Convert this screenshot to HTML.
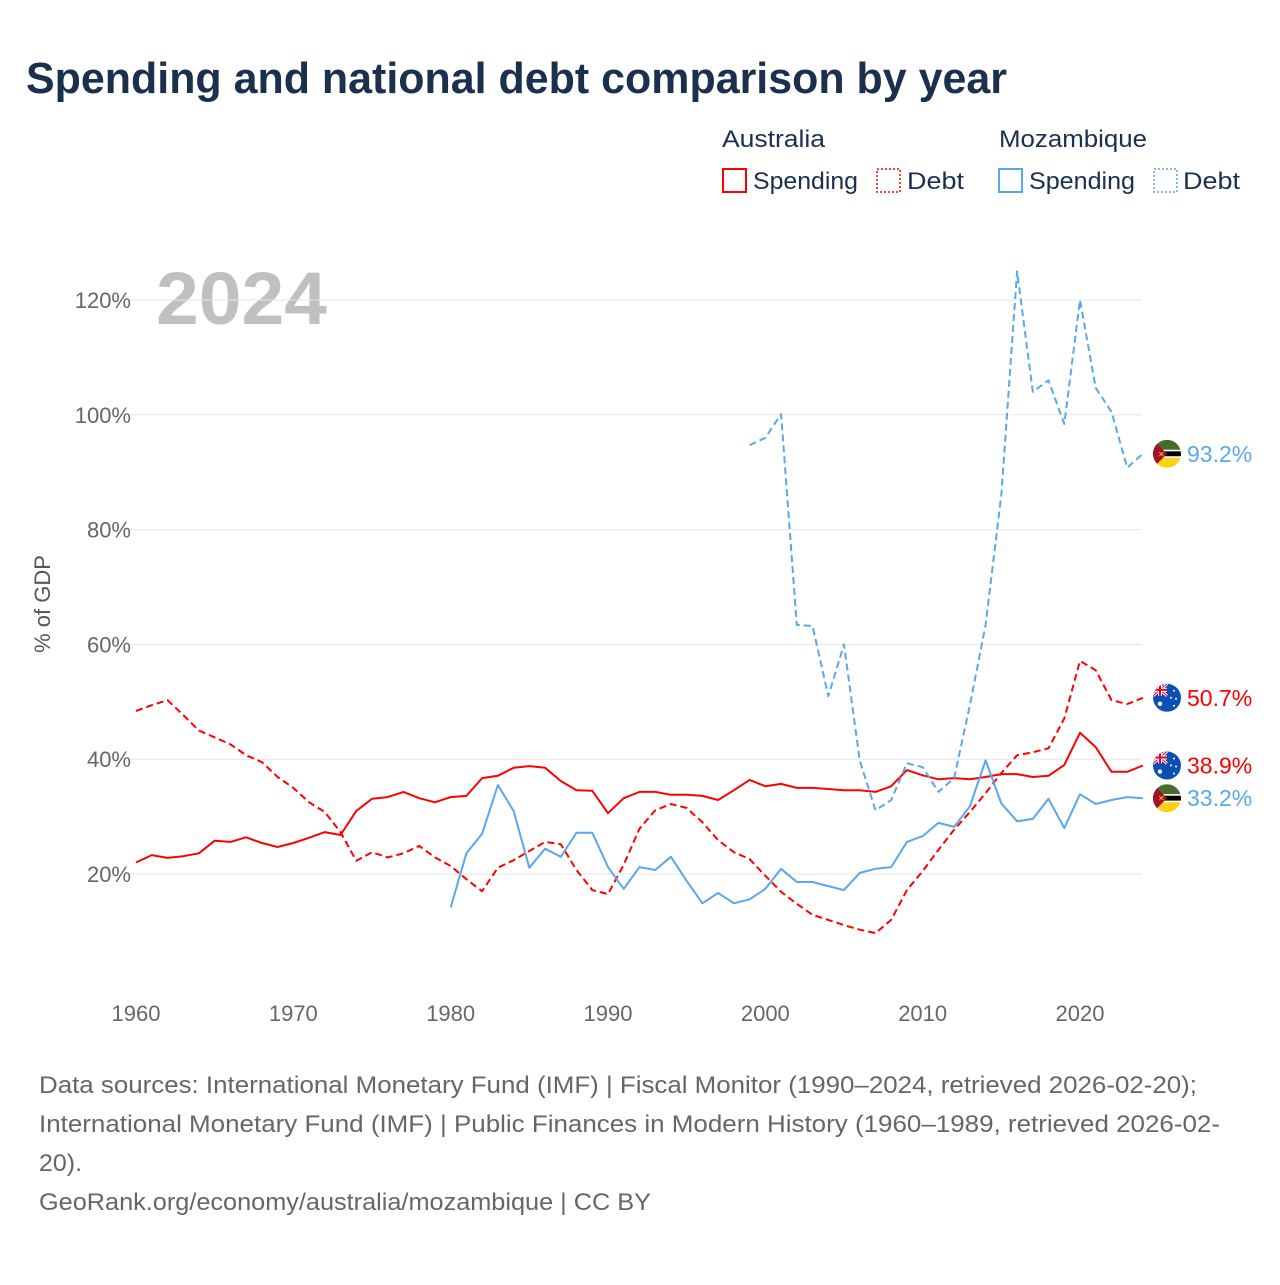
<!DOCTYPE html>
<html><head><meta charset="utf-8"><style>
body{margin:0;background:#fff;font-family:"Liberation Sans",sans-serif;}
</style></head><body>
<svg width="1280" height="1280" xmlns="http://www.w3.org/2000/svg" style="font-family:'Liberation Sans',sans-serif">
<defs>
<clipPath id="fc"><circle r="14" cx="0" cy="0"/></clipPath>
<symbol id="moz" viewBox="-14 -14 28 28" overflow="visible">
<g clip-path="url(#fc)"><rect x="-14" y="-14" width="28" height="10" fill="#4a6a2a"/><rect x="-14" y="-4" width="28" height="1.5" fill="#fff"/><rect x="-14" y="-2.5" width="28" height="5" fill="#000"/><rect x="-14" y="2.5" width="28" height="1.5" fill="#fff"/><rect x="-14" y="4" width="28" height="10" fill="#fcd116"/><polygon points="-14,-14 0,0 -14,14" fill="#a3102a"/><text x="-9" y="3" font-size="8" fill="#fcd116">✕</text></g></symbol>
<symbol id="aus" viewBox="-14 -14 28 28" overflow="visible">
<g clip-path="url(#fc)"><rect x="-14" y="-14" width="28" height="28" fill="#0a50b4"/><rect x="-14" y="-14" width="14" height="12" fill="#0a3d8f"/><path d="M-14,-14L0,-2M0,-14L-14,-2" stroke="#fff" stroke-width="3"/><path d="M-14,-14L0,-2M0,-14L-14,-2" stroke="#e4002b" stroke-width="1"/><rect x="-9" y="-14" width="4" height="12" fill="#fff"/><rect x="-14" y="-10" width="14" height="4" fill="#fff"/><rect x="-8" y="-14" width="2" height="12" fill="#e4002b"/><rect x="-14" y="-9" width="14" height="2" fill="#e4002b"/><circle cx="-7" cy="6" r="2.2" fill="#fff"/><circle cx="7" cy="-7" r="1" fill="#fff"/><circle cx="4" cy="0" r="1" fill="#fff"/><circle cx="9" cy="1" r="1" fill="#fff"/><circle cx="7" cy="8" r="1" fill="#fff"/></g></symbol>
</defs>
<text x="26" y="93" font-size="44" font-weight="bold" fill="#1b2f4e" textLength="981" lengthAdjust="spacingAndGlyphs">Spending and national debt comparison by year</text>
<g font-size="24" fill="#1b2f4e">
<text x="722" y="147" textLength="103" lengthAdjust="spacingAndGlyphs">Australia</text><text x="999" y="147" textLength="148" lengthAdjust="spacingAndGlyphs">Mozambique</text>
<g><rect x="723" y="169" width="23" height="23" fill="none" stroke="#f00" stroke-width="2"/><text x="753" y="189" textLength="105" lengthAdjust="spacingAndGlyphs">Spending</text></g>
<g><rect x="877" y="169" width="23" height="23" fill="none" stroke="#f00" stroke-width="1.5" stroke-dasharray="2,2"/><text x="907" y="189" textLength="57" lengthAdjust="spacingAndGlyphs">Debt</text></g>
<g><rect x="999" y="169" width="23" height="23" fill="none" stroke="#5aa7ea" stroke-width="2"/><text x="1029" y="189" textLength="106" lengthAdjust="spacingAndGlyphs">Spending</text></g>
<g><rect x="1154" y="169" width="23" height="23" fill="none" stroke="#5aa7ea" stroke-width="1.5" stroke-dasharray="2,2"/><text x="1183" y="189" textLength="57" lengthAdjust="spacingAndGlyphs">Debt</text></g>
</g>
<text x="156" y="324" font-size="74" font-weight="bold" fill="#c0c0c0" textLength="171" lengthAdjust="spacingAndGlyphs">2024</text>
<g id="grid"></g><g id="axes"></g><g id="series"></g><g id="ends"></g>
<text transform="translate(50,604) rotate(-90)" text-anchor="middle" font-size="22" fill="#555">% of GDP</text>
<g font-size="24" fill="#666">
<text x="39" y="1093" textLength="1158" lengthAdjust="spacingAndGlyphs">Data sources: International Monetary Fund (IMF) | Fiscal Monitor (1990–2024, retrieved 2026-02-20);</text>
<text x="39" y="1132" textLength="1181" lengthAdjust="spacingAndGlyphs">International Monetary Fund (IMF) | Public Finances in Modern History (1960–1989, retrieved 2026-02-</text>
<text x="39" y="1171" textLength="43" lengthAdjust="spacingAndGlyphs">20).</text>
<text x="39" y="1210" textLength="612" lengthAdjust="spacingAndGlyphs">GeoRank.org/economy/australia/mozambique | CC BY</text>
</g>
</svg>
<script>
const yTicks=[20,40,60,80,100,120];
const xTicks=[1960,1970,1980,1990,2000,2010,2020];
const ausSpendStart=1960;
const ausSpend=[22.0,23.3,22.8,23.1,23.6,25.8,25.6,26.4,25.4,24.7,25.4,26.3,27.3,26.8,31.0,33.1,33.4,34.3,33.2,32.5,33.4,33.6,36.7,37.1,38.5,38.8,38.5,36.2,34.6,34.5,30.6,33.2,34.3,34.3,33.8,33.8,33.6,32.9,34.6,36.4,35.3,35.7,35.0,35.0,34.8,34.6,34.6,34.3,35.3,38.1,37.2,36.5,36.7,36.5,36.9,37.4,37.4,36.9,37.1,39.0,44.6,42.1,37.8,37.8,38.9];
const ausDebtStart=1960;
const ausDebt=[48.4,49.4,50.3,47.7,45.0,43.8,42.6,40.7,39.5,36.9,35.0,32.5,30.8,27.3,22.3,23.8,22.9,23.6,24.9,22.9,21.4,19.1,17.0,21.1,22.4,24.0,25.6,25.2,20.7,17.2,16.5,21.6,27.9,31.1,32.2,31.5,29.0,25.9,23.8,22.6,19.7,16.9,14.8,12.9,12.0,11.1,10.3,9.7,12.0,17.2,20.5,24.2,27.7,30.8,34.1,37.6,40.7,41.2,41.9,47.1,57.1,55.5,50.3,49.6,50.7];
const mozSpendStart=1980;
const mozSpend=[14.2,23.6,27.0,35.5,31.0,21.1,24.4,23.0,27.2,27.2,21.2,17.4,21.2,20.7,23.0,18.8,14.9,16.7,14.9,15.6,17.4,20.9,18.6,18.6,17.9,17.2,20.2,20.9,21.2,25.6,26.6,28.9,28.2,31.8,39.8,32.3,29.2,29.6,33.1,28.0,33.9,32.2,32.9,33.4,33.2];
const mozDebtStart=1999;
const mozDebt=[94.7,96.0,100.1,63.4,63.2,51.0,60.0,39.8,31.1,32.9,39.3,38.6,34.3,36.7,49.4,63.4,86.0,125.0,104.0,106.0,98.4,120.0,104.7,100.5,90.8,93.2];
const NS='http://www.w3.org/2000/svg';
const X=y=>136+(y-1960)*(944/60);
const Y=v=>988.8-v*5.74;
function mk(tag,attrs,parent){const e=document.createElementNS(NS,tag);for(const k in attrs)e.setAttribute(k,attrs[k]);document.getElementById(parent).appendChild(e);return e;}
yTicks.forEach(t=>{
 const l=mk('line',{x1:130,x2:1142,y1:Y(t),y2:Y(t),stroke:'#e6e6e6','stroke-width':1},'grid');
 
 
 const tx=mk('text',{x:131,y:Y(t)+8,'text-anchor':'end','font-size':22,fill:'#666'},'axes');
 tx.textContent=t+'%';
 
 
});
xTicks.forEach(t=>{
 const tx=mk('text',{x:X(t),y:1021,'text-anchor':'middle','font-size':22,fill:'#666'},'axes');
 tx.textContent=t;
 
 
});
function line(arr,start,color,dash,name){
 const d=arr.map((v,i)=>(i?'L':'M')+X(start+i).toFixed(1)+','+Y(v).toFixed(1)).join('');
 const p=mk('path',{d:d,fill:'none',stroke:color,'stroke-width':2,'stroke-dasharray':dash,'stroke-linejoin':'round'},'series');
 
 
}
line(ausSpend,ausSpendStart,'#f00','none','australia-spending-line');
line(ausDebt,ausDebtStart,'#f00','7,4','australia-debt-line');
line(mozSpend,mozSpendStart,'#5aa7ea','none','mozambique-spending-line');
line(mozDebt,mozDebtStart,'#5aa7ea','7,4','mozambique-debt-line');
function end(arr,flag,color,name){
 const v=arr[arr.length-1];const y=Y(v);
 const u=mk('use',{href:'#'+flag,x:1153,y:y-14,width:28,height:28},'ends');
 
 
 const t=mk('text',{x:1187,y:y+8,'font-size':23,fill:color},'ends');
 t.textContent=v.toFixed(1)+'%';
 
 
}
end(mozDebt,'moz','#5aa7ea','mozambique-debt');
end(ausDebt,'aus','#f00','australia-debt');
end(ausSpend,'aus','#f00','australia-spending');
end(mozSpend,'moz','#5aa7ea','mozambique-spending');
</script>
</body></html>
